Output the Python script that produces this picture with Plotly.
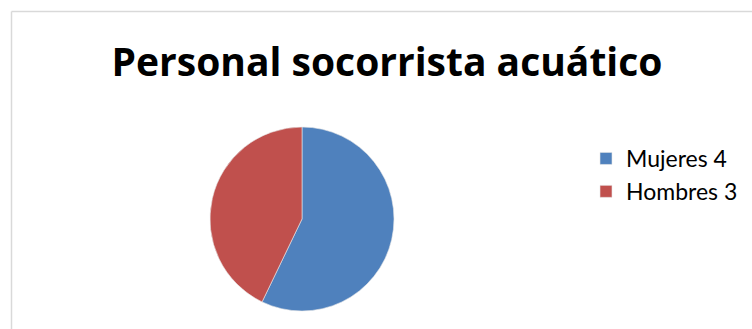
import plotly.graph_objects as go

title = "Personal socorrista acuático"
labels = ["Mujeres 4", "Hombres 3"]
values = [4, 3]
colors = ["#4F81BD", "#C0504D"]

W, H = 752, 329

fig = go.Figure(go.Pie(
    labels=labels,
    values=values,
    sort=False,
    direction="clockwise",
    rotation=0,
    marker=dict(colors=colors, line=dict(color="#E8E8E8", width=0.6)),
    textinfo="none",
    hoverinfo="label+value",
    domain=dict(x=[(302 - 92) / W, (302 + 92) / W], y=[18 / H, 202 / H]),
))

fig.update_layout(
    width=W, height=H,
    margin=dict(l=0, r=0, t=0, b=0),
    paper_bgcolor="white",
    plot_bgcolor="white",
    title=dict(
        text="<b>" + title + "</b>",
        x=387 / W, xanchor="center", xref="paper",
        y=1 - 62 / H, yanchor="middle", yref="paper",
        font=dict(family="Open Sans", size=39, color="black"),
    ),
    legend=dict(
        x=586 / W, xanchor="left",
        y=1 - 137 / H, yanchor="top",
        font=dict(family="Lato", size=23, color="black"),
        itemwidth=30,
        tracegroupgap=0,
        bgcolor="rgba(0,0,0,0)",
    ),
    shapes=[
        dict(type="line", xref="paper", yref="paper",
             x0=11.5 / W, x1=1.01, y0=1 - 11.5 / H, y1=1 - 11.5 / H,
             line=dict(color="#D9D9D9", width=1.5)),
        dict(type="line", xref="paper", yref="paper",
             x0=11.5 / W, x1=11.5 / W, y0=-0.02, y1=1 - 11.5 / H,
             line=dict(color="#D9D9D9", width=1.5)),
    ],
)

fig.write_html("out.html")
